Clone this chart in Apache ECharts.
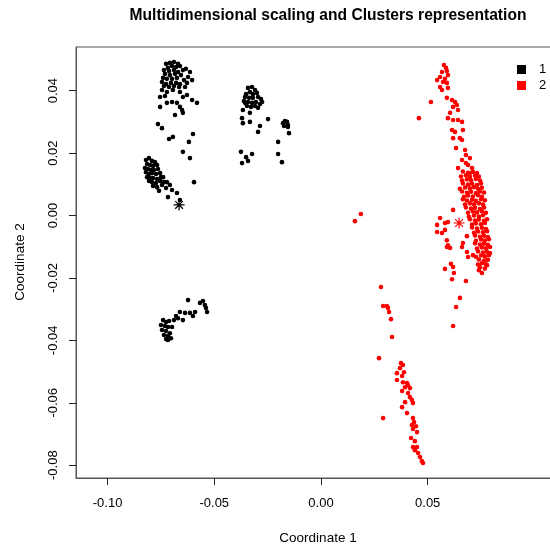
<!DOCTYPE html>
<html>
<head>
<meta charset="utf-8">
<title>Multidimensional scaling and Clusters representation</title>
<script src="https://cdn.jsdelivr.net/npm/echarts@6/dist/echarts.min.js"></script>
<style>
  html, body { margin: 0; padding: 0; background: #fff; overflow: hidden; }
  #chart { width: 600px; height: 547px; }
</style>
</head>
<body>
<div id="chart"></div>
<script>
// MDS coordinates (Coordinate 1, Coordinate 2) for cluster 1
const cluster1 = [
  [-0.0726, 0.0486], [-0.0708, 0.0489], [-0.0689, 0.0492], [-0.0670, 0.0486], [-0.0698, 0.0479],
  [-0.0717, 0.0473], [-0.0679, 0.0476], [-0.0661, 0.0479], [-0.0736, 0.0466], [-0.0712, 0.0463],
  [-0.0689, 0.0466], [-0.0670, 0.0460], [-0.0647, 0.0466], [-0.0633, 0.0470], [-0.0731, 0.0454],
  [-0.0708, 0.0450], [-0.0684, 0.0454], [-0.0656, 0.0450], [-0.0623, 0.0444], [-0.0740, 0.0441],
  [-0.0722, 0.0438], [-0.0698, 0.0438], [-0.0675, 0.0441], [-0.0642, 0.0434], [-0.0614, 0.0460],
  [-0.0604, 0.0434], [-0.0745, 0.0428], [-0.0726, 0.0421], [-0.0703, 0.0425], [-0.0679, 0.0425],
  [-0.0661, 0.0421], [-0.0628, 0.0425], [-0.0736, 0.0415], [-0.0712, 0.0412], [-0.0689, 0.0415],
  [-0.0665, 0.0412], [-0.0637, 0.0412], [-0.0745, 0.0402], [-0.0722, 0.0396], [-0.0694, 0.0402],
  [-0.0661, 0.0396], [-0.0647, 0.0380], [-0.0628, 0.0386], [-0.0754, 0.0380], [-0.0731, 0.0383],
  [-0.0754, 0.0348], [-0.0722, 0.0361], [-0.0698, 0.0364], [-0.0675, 0.0361], [-0.0661, 0.0348],
  [-0.0651, 0.0338], [-0.0647, 0.0329], [-0.0684, 0.0322], [-0.0604, 0.0370], [-0.0581, 0.0361],
  [-0.0764, 0.0293], [-0.0745, 0.0280], [-0.0712, 0.0245], [-0.0694, 0.0252], [-0.0619, 0.0236],
  [-0.0600, 0.0261], [-0.0647, 0.0204], [-0.0614, 0.0184], [-0.0595, 0.0107],
  [-0.0820, 0.0178], [-0.0806, 0.0184], [-0.0792, 0.0175], [-0.0778, 0.0171], [-0.0815, 0.0165],
  [-0.0801, 0.0162], [-0.0787, 0.0159], [-0.0768, 0.0162], [-0.0825, 0.0152], [-0.0811, 0.0149],
  [-0.0797, 0.0146], [-0.0783, 0.0146], [-0.0764, 0.0149], [-0.0820, 0.0139], [-0.0806, 0.0133],
  [-0.0792, 0.0136], [-0.0773, 0.0133], [-0.0754, 0.0136], [-0.0815, 0.0123], [-0.0801, 0.0120],
  [-0.0787, 0.0120], [-0.0768, 0.0117], [-0.0750, 0.0123], [-0.0806, 0.0111], [-0.0792, 0.0107],
  [-0.0773, 0.0104], [-0.0754, 0.0111], [-0.0740, 0.0123], [-0.0736, 0.0107], [-0.0768, 0.0091],
  [-0.0722, 0.0107], [-0.0708, 0.0098], [-0.0698, 0.0082], [-0.0717, 0.0059], [-0.0675, 0.0072],
  [-0.0661, 0.0050], [-0.0745, 0.0098], [-0.0759, 0.0079], [-0.0726, 0.0088], [-0.0787, 0.0095],
  [-0.0342, 0.0409], [-0.0323, 0.0412], [-0.0309, 0.0402], [-0.0333, 0.0396], [-0.0351, 0.0389],
  [-0.0319, 0.0389], [-0.0300, 0.0393], [-0.0356, 0.0380], [-0.0337, 0.0377], [-0.0319, 0.0377],
  [-0.0295, 0.0380], [-0.0281, 0.0373], [-0.0361, 0.0367], [-0.0342, 0.0364], [-0.0323, 0.0361],
  [-0.0305, 0.0364], [-0.0286, 0.0357], [-0.0347, 0.0351], [-0.0328, 0.0348], [-0.0309, 0.0351],
  [-0.0356, 0.0361], [-0.0366, 0.0338], [-0.0333, 0.0329], [-0.0295, 0.0345], [-0.0276, 0.0364],
  [-0.0370, 0.0312], [-0.0366, 0.0296], [-0.0333, 0.0300], [-0.0286, 0.0287], [-0.0248, 0.0309],
  [-0.0295, 0.0268], [-0.0375, 0.0204], [-0.0351, 0.0187], [-0.0323, 0.0197], [-0.0342, 0.0175],
  [-0.0370, 0.0168], [-0.0178, 0.0296], [-0.0169, 0.0303], [-0.0159, 0.0300], [-0.0155, 0.0290],
  [-0.0155, 0.0284], [-0.0173, 0.0287], [-0.0150, 0.0264], [-0.0201, 0.0236], [-0.0201, 0.0197],
  [-0.0183, 0.0171],
  [-0.0623, -0.0271], [-0.0567, -0.0280], [-0.0553, -0.0274], [-0.0544, -0.0287], [-0.0534, -0.0309],
  [-0.0539, -0.0296], [-0.0661, -0.0309], [-0.0637, -0.0312], [-0.0614, -0.0312], [-0.0590, -0.0309],
  [-0.0600, -0.0322], [-0.0670, -0.0329], [-0.0647, -0.0335], [-0.0740, -0.0335], [-0.0726, -0.0341],
  [-0.0712, -0.0338], [-0.0750, -0.0351], [-0.0731, -0.0354], [-0.0717, -0.0357], [-0.0698, -0.0357],
  [-0.0745, -0.0367], [-0.0726, -0.0370], [-0.0708, -0.0377], [-0.0736, -0.0383], [-0.0717, -0.0386],
  [-0.0726, -0.0396], [-0.0717, -0.0399], [-0.0703, -0.0393], [-0.0689, -0.0335], [-0.0679, -0.0322]
];

// MDS coordinates for cluster 2
const cluster2 = [
  [0.0576, 0.0482], [0.0586, 0.0473], [0.0567, 0.0460], [0.0595, 0.0450], [0.0558, 0.0444],
  [0.0544, 0.0434], [0.0572, 0.0428], [0.0590, 0.0425], [0.0558, 0.0412], [0.0595, 0.0409],
  [0.0567, 0.0402], [0.0581, 0.0438], [0.0590, 0.0463], [0.0515, 0.0364], [0.0459, 0.0312],
  [0.0590, 0.0377], [0.0614, 0.0370], [0.0628, 0.0364], [0.0619, 0.0348], [0.0637, 0.0354],
  [0.0642, 0.0338], [0.0605, 0.0329], [0.0595, 0.0312], [0.0619, 0.0306], [0.0642, 0.0306],
  [0.0661, 0.0300], [0.0614, 0.0274], [0.0628, 0.0268], [0.0665, 0.0274], [0.0619, 0.0248],
  [0.0651, 0.0248], [0.0661, 0.0242], [0.0633, 0.0216], [0.0675, 0.0210], [0.0698, 0.0184],
  [0.0642, 0.0152], [0.0689, 0.0162], [0.0708, 0.0152], [0.0698, 0.0136], [0.0679, 0.0194],
  [0.0661, 0.0178], [0.0679, 0.0168],
  [0.0665, 0.0141], [0.0689, 0.0137], [0.0712, 0.0140], [0.0731, 0.0136],
  [0.0656, 0.0125], [0.0679, 0.0129], [0.0698, 0.0124], [0.0722, 0.0128], [0.0740, 0.0125],
  [0.0661, 0.0112], [0.0684, 0.0116], [0.0703, 0.0113], [0.0726, 0.0117], [0.0745, 0.0112],
  [0.0665, 0.0103], [0.0689, 0.0099], [0.0708, 0.0102], [0.0731, 0.0098], [0.0750, 0.0103],
  [0.0651, 0.0086], [0.0675, 0.0090], [0.0698, 0.0087], [0.0717, 0.0091], [0.0736, 0.0086], [0.0754, 0.0089],
  [0.0661, 0.0077], [0.0684, 0.0073], [0.0703, 0.0076], [0.0726, 0.0072], [0.0745, 0.0077], [0.0764, 0.0074],
  [0.0670, 0.0060], [0.0689, 0.0064], [0.0712, 0.0061], [0.0736, 0.0065], [0.0754, 0.0060],
  [0.0665, 0.0052], [0.0684, 0.0048], [0.0708, 0.0051], [0.0726, 0.0047], [0.0750, 0.0052], [0.0768, 0.0049],
  [0.0675, 0.0035], [0.0698, 0.0039], [0.0717, 0.0036], [0.0740, 0.0039], [0.0759, 0.0035],
  [0.0679, 0.0026], [0.0703, 0.0022], [0.0722, 0.0025], [0.0745, 0.0021], [0.0764, 0.0026],
  [0.0689, 0.0009], [0.0712, 0.0013], [0.0731, 0.0010], [0.0754, 0.0014], [0.0773, 0.0009],
  [0.0693, -0.0004], [0.0717, 0.0000], [0.0740, -0.0003], [0.0759, 0.0001],
  [0.0698, -0.0012], [0.0722, -0.0016], [0.0740, -0.0013], [0.0764, -0.0017], [0.0778, -0.0012],
  [0.0708, -0.0029], [0.0726, -0.0025], [0.0750, -0.0028], [0.0768, -0.0024],
  [0.0708, -0.0038], [0.0731, -0.0042], [0.0754, -0.0039], [0.0773, -0.0043],
  [0.0717, -0.0055], [0.0736, -0.0051], [0.0759, -0.0054], [0.0778, -0.0050],
  [0.0722, -0.0064], [0.0745, -0.0068], [0.0764, -0.0065], [0.0782, -0.0069],
  [0.0726, -0.0081], [0.0750, -0.0077], [0.0768, -0.0080], [0.0787, -0.0076],
  [0.0722, -0.0089], [0.0745, -0.0093], [0.0764, -0.0090], [0.0782, -0.0094],
  [0.0731, -0.0106], [0.0754, -0.0102], [0.0773, -0.0105], [0.0792, -0.0101],
  [0.0736, -0.0115], [0.0759, -0.0119], [0.0778, -0.0116], [0.0792, -0.0120],
  [0.0726, -0.0132], [0.0750, -0.0128], [0.0768, -0.0131], [0.0787, -0.0127],
  [0.0740, -0.0141], [0.0764, -0.0145], [0.0782, -0.0142],
  [0.0736, -0.0157], [0.0754, -0.0153], [0.0773, -0.0156],
  [0.0745, -0.0166], [0.0768, -0.0170],
  [0.0619, 0.0018], [0.0558, -0.0008], [0.0581, -0.0024], [0.0595, -0.0021], [0.0544, -0.0030],
  [0.0544, -0.0053], [0.0567, -0.0056], [0.0581, -0.0046], [0.0590, -0.0079], [0.0595, -0.0095],
  [0.0590, -0.0101], [0.0605, -0.0104], [0.0661, -0.0101], [0.0665, -0.0088], [0.0684, -0.0066],
  [0.0684, -0.0117], [0.0689, -0.0133], [0.0712, -0.0127], [0.0609, -0.0155], [0.0619, -0.0165],
  [0.0581, -0.0171], [0.0623, -0.0184], [0.0614, -0.0204], [0.0679, -0.0210], [0.0740, -0.0175],
  [0.0754, -0.0184], [0.0778, -0.0159], [0.0651, -0.0264], [0.0633, -0.0293], [0.0619, -0.0354],
  [0.0159, -0.0018], [0.0187, 0.0005],
  [0.0281, -0.0229], [0.0291, -0.0290], [0.0309, -0.0290], [0.0314, -0.0296], [0.0319, -0.0309],
  [0.0328, -0.0332], [0.0333, -0.0389], [0.0272, -0.0457], [0.0375, -0.0473], [0.0384, -0.0479],
  [0.0370, -0.0489], [0.0389, -0.0502], [0.0356, -0.0505], [0.0380, -0.0514], [0.0356, -0.0527],
  [0.0384, -0.0534], [0.0403, -0.0537], [0.0408, -0.0543], [0.0417, -0.0553], [0.0394, -0.0550],
  [0.0380, -0.0562], [0.0408, -0.0569], [0.0417, -0.0582], [0.0426, -0.0591], [0.0394, -0.0598],
  [0.0431, -0.0601], [0.0380, -0.0614], [0.0403, -0.0633], [0.0291, -0.0649], [0.0431, -0.0649],
  [0.0436, -0.0662], [0.0426, -0.0671], [0.0445, -0.0675], [0.0431, -0.0684], [0.0450, -0.0694],
  [0.0422, -0.0713], [0.0440, -0.0723], [0.0431, -0.0742], [0.0450, -0.0742], [0.0440, -0.0752],
  [0.0455, -0.0761], [0.0464, -0.0774], [0.0473, -0.0787], [0.0478, -0.0793]
];

// Cluster centres
const center1 = [[-0.0665, 0.0034]];
const center2 = [[0.0647, -0.0024]];

const clusterNames = ['1', '2'];
const clusterColors = ['#000000', '#ff0000'];

const xTicks = [-0.10, -0.05, 0.00, 0.05];
const yTicks = [-0.08, -0.06, -0.04, -0.02, 0.00, 0.02, 0.04];

const FONT = '"Liberation Sans", Arial, sans-serif';
const ASTERISK = 'path://M0,5L10,5M5,0L5,10M1.5,1.5L8.5,8.5M8.5,1.5L1.5,8.5';

const chart = echarts.init(document.getElementById('chart'), null, { renderer: 'canvas' });

const axisCommon = {
  type: 'value',
  splitLine: { show: false },
  axisLine: { show: true, onZero: false, lineStyle: { color: '#555', width: 1 } },
  axisTick: { show: true, inside: false, length: 7, lineStyle: { color: '#222', width: 1 } },
  axisLabel: { color: '#000', fontSize: 13, fontFamily: FONT, margin: 19,
               formatter: v => v.toFixed(2) }
};

chart.setOption({
  animation: false,
  backgroundColor: '#fff',
  grid: { left: 76, top: 47, width: 500, height: 431, show: true,
          borderColor: '#555', borderWidth: 1, backgroundColor: 'transparent' },
  xAxis: Object.assign({}, axisCommon, {
    min: -0.1148, max: 0.1195,
    axisTick: Object.assign({}, axisCommon.axisTick, { customValues: xTicks }),
    axisLabel: Object.assign({}, axisCommon.axisLabel, { customValues: xTicks })
  }),
  yAxis: Object.assign({}, axisCommon, {
    min: -0.0841, max: 0.0540,
    axisTick: Object.assign({}, axisCommon.axisTick, { customValues: yTicks }),
    axisLabel: Object.assign({}, axisCommon.axisLabel, { customValues: yTicks, rotate: 90, margin: 16 })
  }),
  legend: {
    orient: 'vertical', left: 517, top: 63, padding: 0,
    itemWidth: 9, itemHeight: 9, itemGap: 3,
    data: clusterNames.map(n => ({ name: n, icon: 'rect' })),
    textStyle: { color: '#000', fontSize: 13, fontFamily: FONT, padding: [0, 0, 0, 8] },
    selectedMode: false
  },
  series: [
    { name: clusterNames[0], type: 'scatter', data: cluster1, symbol: 'circle', symbolSize: 4.6,
      itemStyle: { color: clusterColors[0], opacity: 1 } },
    { name: clusterNames[1], type: 'scatter', data: cluster2, symbol: 'circle', symbolSize: 4.6,
      itemStyle: { color: clusterColors[1], opacity: 1 } },
    { name: 'centre 1', type: 'scatter', data: center1, symbol: ASTERISK, symbolSize: 11,
      itemStyle: { color: 'rgba(0,0,0,0)', borderColor: clusterColors[0], borderWidth: 1.2, opacity: 1 } },
    { name: 'centre 2', type: 'scatter', data: center2, symbol: ASTERISK, symbolSize: 11,
      itemStyle: { color: 'rgba(0,0,0,0)', borderColor: clusterColors[1], borderWidth: 1.2, opacity: 1 } }
  ],
  graphic: [
    { type: 'text', x: 328, y: 16,
      style: { text: 'Multidimensional scaling and Clusters representation',
               fontSize: 15.6, fontWeight: 'bold', fontFamily: FONT, fill: '#000',
               align: 'center', verticalAlign: 'middle', textAlign: 'center', textVerticalAlign: 'middle' } },
    { type: 'text', x: 318, y: 538,
      style: { text: 'Coordinate 1', fontSize: 13.5, fontFamily: FONT, fill: '#000',
               align: 'center', verticalAlign: 'middle', textAlign: 'center', textVerticalAlign: 'middle' } },
    { type: 'text', x: 20, y: 262, rotation: Math.PI / 2,
      style: { text: 'Coordinate 2', fontSize: 13.5, fontFamily: FONT, fill: '#000',
               align: 'center', verticalAlign: 'middle', textAlign: 'center', textVerticalAlign: 'middle' } }
  ]
});
</script>
</body>
</html>
